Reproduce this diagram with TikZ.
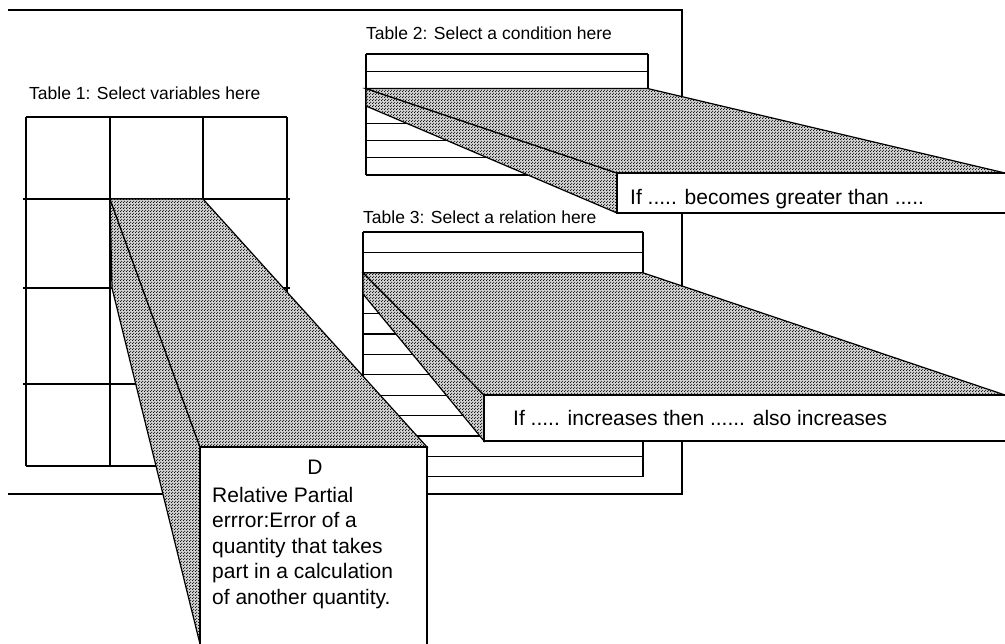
\documentclass[tikz,border=0pt]{standalone}
\usepackage{fontspec}
\setmainfont{Liberation Sans}
\usetikzlibrary{patterns}
\pgfdeclarepatternformonly{stipple}{\pgfpointorigin}{\pgfqpoint{3pt}{3pt}}{\pgfqpoint{3pt}{3pt}}{%
  \pgfpathcircle{\pgfqpoint{0.75pt}{0.75pt}}{0.72pt}%
  \pgfpathcircle{\pgfqpoint{2.25pt}{2.25pt}}{0.72pt}%
  \pgfusepath{fill}}
\tikzset{
  ln/.style={line width=1.2pt, line join=miter},
  face/.style={ln, preaction={fill=gray!35}, pattern=stipple},
  whitebox/.style={ln, fill=white},
  title/.style={font=\fontsize{17.5}{20}\selectfont, anchor=base west, inner sep=0pt},
  lbl/.style={font=\fontsize{21}{25}\selectfont, anchor=base west, inner sep=0pt},
}
\begin{document}
\begin{tikzpicture}[x=1pt,y=-1pt]
\useasboundingbox (0,0) rectangle (1005,644);
% outer frame (open on the left)
\draw[ln] (8,10) -- (682,10) -- (682,494) -- (8,494);

% ---------- Table 3 ----------
\node[title] (t3title) at (363,224) {Table 3: Select a relation here};
\foreach \k in {0,...,12} \draw[ln] (363,{232+20.4*\k}) -- (643,{232+20.4*\k});
\draw[ln] (363,232) -- (363,476.8);
\draw[ln] (643,232) -- (643,476.8);
\coordinate (a3) at (363,272.8);
\coordinate (b3) at (643,272.8);
\coordinate (c3) at (1005,395);
\coordinate (d3) at (484,395);
\coordinate (e3) at (363,294);
\coordinate (f3) at (484,441);
\coordinate (g3) at (1005,441);
\draw[face] (a3) -- (e3) -- (f3) -- (d3) -- cycle;
\draw[face] (a3) -- (b3) -- (c3) -- (d3) -- cycle;
\draw[whitebox] (c3) -- (d3) -- (f3) -- (g3);
\node[lbl] (rel) at (513,426) {If ..... increases then ...... also increases};

% ---------- Table 2 ----------
\node[title] (t2title) at (366,40) {Table 2: Select a condition here};
\foreach \k in {0,...,7} \draw[ln] (366,{54+17.3*\k}) -- (648,{54+17.3*\k});
\draw[ln] (366,54) -- (366,175.1);
\draw[ln] (648,54) -- (648,175.1);
\coordinate (a2) at (366,88.6);
\coordinate (b2) at (648,88.6);
\coordinate (c2) at (1005,173);
\coordinate (d2) at (617,173);
\coordinate (e2) at (366,106);
\coordinate (f2) at (617,213);
\coordinate (g2) at (1005,213);
\draw[face] (a2) -- (e2) -- (f2) -- (d2) -- cycle;
\draw[face] (a2) -- (b2) -- (c2) -- (d2) -- cycle;
\draw[whitebox] (c2) -- (d2) -- (f2) -- (g2);
\node[lbl] (cond) at (630,205) {If ..... becomes greater than .....};

% ---------- Table 1 ----------
\node[title] (t1title) at (29,100) {Table 1: Select variables here};
\draw[ln] (26,117) -- (287,117);
\foreach \y in {199,288,384} \draw[ln] (23,\y) -- (290,\y);
\draw[ln] (26,466) -- (287,466);
\foreach \x in {26,110,203,287} \draw[ln] (\x,117) -- (\x,466);
\coordinate (a1) at (110,199);
\coordinate (b1) at (203,199);
\coordinate (c1) at (427,447);
\coordinate (d1) at (200,447);
\coordinate (e1) at (112,288);
\coordinate (f1) at (200,644);
\coordinate (g1) at (427,646);
\draw[face] (a1) -- (e1) -- (f1) -- (d1) -- cycle;
\draw[face] (a1) -- (b1) -- (c1) -- (d1) -- cycle;
\draw[whitebox] (f1) -- (d1) -- (c1) -- (g1);
\node[lbl, anchor=base] (dlet) at (315,475) {D};
\node[lbl] (l1) at (212,502) {Relative Partial};
\node[lbl] (l2) at (212,527.5) {errror:Error of a};
\node[lbl] (l3) at (212,553) {quantity that takes};
\node[lbl] (l4) at (212,578.5) {part in a calculation};
\node[lbl] (l5) at (212,604) {of another quantity.};
\end{tikzpicture}
\end{document}
